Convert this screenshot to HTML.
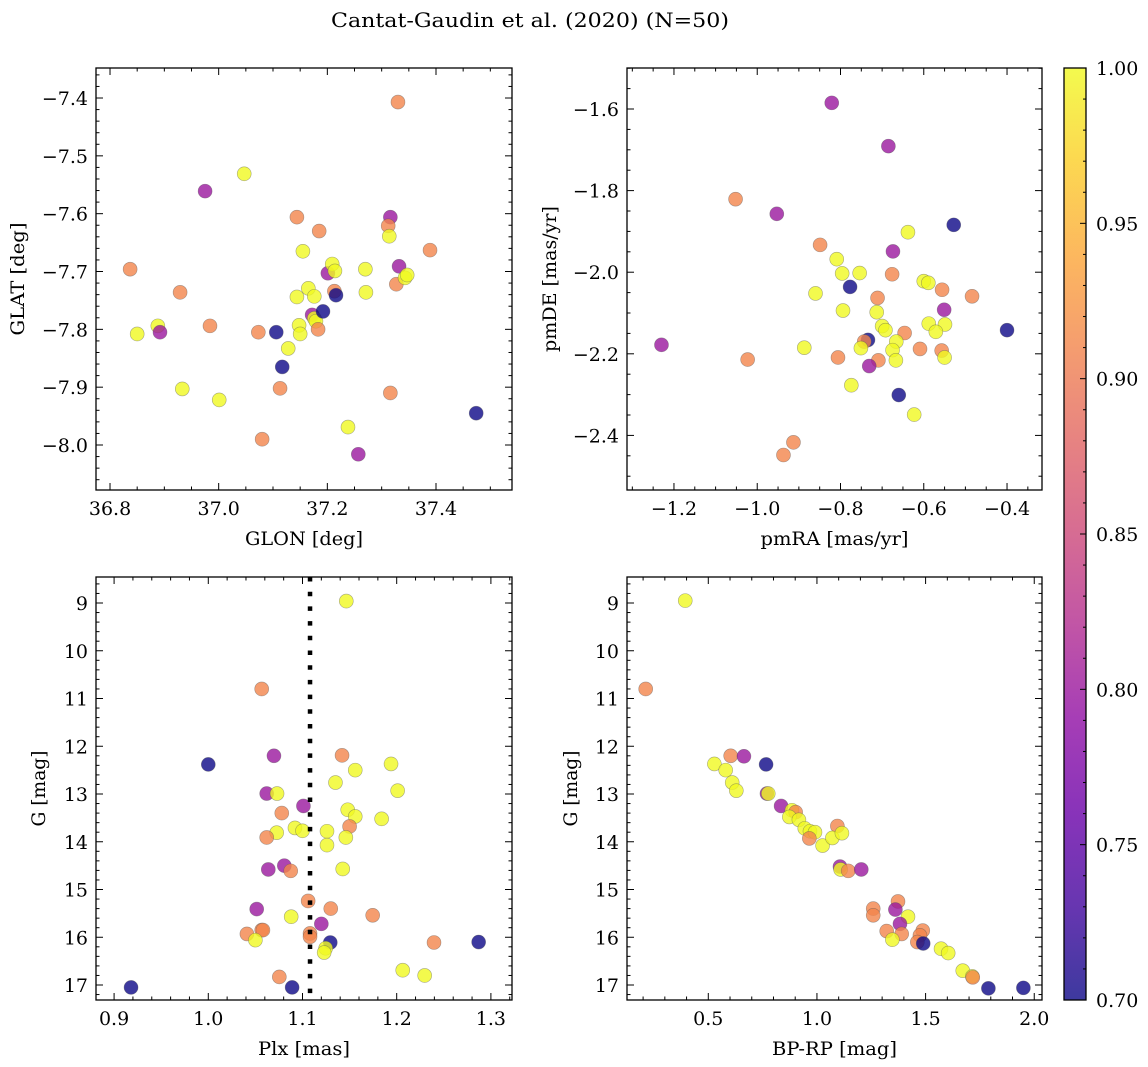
<!DOCTYPE html>
<html><head><meta charset="utf-8"><title>Cantat-Gaudin et al. (2020)</title>
<style>
html,body{margin:0;padding:0;background:#fff;}
svg{display:block;font-family:"DejaVu Serif","Liberation Serif",serif;}
</style></head>
<body>
<svg id="fig" width="1148" height="1067" viewBox="0 0 1148 1067" xmlns="http://www.w3.org/2000/svg">
<defs>
<linearGradient id="cbgrad" x1="0" y1="1" x2="0" y2="0">
<stop offset="0" stop-color="#0d0887"/><stop offset="0.1" stop-color="#41049d"/><stop offset="0.2" stop-color="#6a00a8"/><stop offset="0.3" stop-color="#8f0da4"/><stop offset="0.4" stop-color="#b12a90"/><stop offset="0.5" stop-color="#cc4778"/><stop offset="0.6" stop-color="#e16462"/><stop offset="0.7" stop-color="#f2844b"/><stop offset="0.8" stop-color="#fca636"/><stop offset="0.9" stop-color="#fcce25"/><stop offset="1" stop-color="#f0f921"/>
</linearGradient>
</defs>
<text x="530" y="27" text-anchor="middle" font-size="20" textLength="398" lengthAdjust="spacingAndGlyphs">Cantat-Gaudin et al. (2020) (N=50)</text>
<g id="layer"></g>
</svg>
<script>
// ---- Panel 1: GLON vs GLAT ----
const glon1 = [37.33,36.975,37.047,36.837,36.850,36.888,36.892,36.929,36.984,36.933,37.001,37.073,37.106,37.117,37.113,37.080,37.128,37.144,37.155,37.144,37.148,37.150,37.165,37.176,37.172,37.176,37.179,37.183,37.185,37.192,37.201,37.209,37.214,37.213,37.216,37.238,37.257,37.270,37.271,37.316,37.312,37.314,37.327,37.332,37.343,37.347,37.316,37.389,37.474];
const glat1 = [-7.407,-7.561,-7.531,-7.696,-7.808,-7.794,-7.805,-7.736,-7.794,-7.903,-7.922,-7.805,-7.805,-7.865,-7.902,-7.990,-7.833,-7.606,-7.665,-7.744,-7.793,-7.808,-7.729,-7.743,-7.775,-7.781,-7.786,-7.800,-7.630,-7.769,-7.703,-7.687,-7.699,-7.734,-7.741,-7.969,-8.016,-7.696,-7.736,-7.606,-7.621,-7.639,-7.722,-7.691,-7.711,-7.706,-7.910,-7.663,-7.945];
const prob1 = [0.91,0.80,1.0,0.91,1.0,1.0,0.80,0.91,0.91,1.0,1.0,0.91,0.70,0.70,0.91,0.91,1.0,0.91,1.0,1.0,1.0,1.0,1.0,1.0,0.80,1.0,1.0,0.91,0.91,0.70,0.80,1.0,1.0,0.91,0.70,1.0,0.80,1.0,1.0,0.80,0.91,1.0,0.91,0.80,1.0,1.0,0.91,0.91,0.70];

// ---- Panel 2: pmRA vs pmDE ----
const pmra2 = [-0.821,-0.685,-1.052,-0.953,-0.528,-0.638,-0.849,-0.674,-0.809,-0.796,-0.754,-0.676,-0.600,-0.589,-0.556,-0.484,-0.860,-0.777,-0.711,-0.794,-0.713,-0.551,-0.700,-0.692,-0.646,-0.588,-0.549,-0.571,-0.400,-1.230,-0.887,-0.734,-0.743,-0.751,-0.666,-0.675,-0.667,-0.609,-0.557,-0.550,-1.023,-0.806,-0.709,-0.731,-0.774,-0.660,-0.623,-0.913,-0.937];
const pmde2 = [-1.585,-1.691,-1.821,-1.857,-1.884,-1.902,-1.933,-1.949,-1.968,-2.003,-2.002,-2.005,-2.022,-2.026,-2.043,-2.059,-2.052,-2.036,-2.063,-2.094,-2.098,-2.092,-2.132,-2.142,-2.149,-2.126,-2.128,-2.146,-2.142,-2.178,-2.185,-2.166,-2.170,-2.186,-2.170,-2.191,-2.216,-2.188,-2.192,-2.209,-2.214,-2.209,-2.216,-2.230,-2.277,-2.301,-2.349,-2.417,-2.448];
const prob2 = [0.80,0.80,0.91,0.80,0.70,1.0,0.91,0.80,1.0,1.0,1.0,0.91,1.0,1.0,0.91,0.91,1.0,0.70,0.91,1.0,1.0,0.80,1.0,1.0,0.91,1.0,1.0,1.0,0.70,0.80,1.0,0.70,0.91,1.0,1.0,1.0,1.0,0.91,0.91,1.0,0.91,0.91,0.91,0.80,1.0,0.70,1.0,0.91,0.91];

// ---- Panel 3: Plx vs G ----
const plx3 = [1.1465,1.0567,1.000,1.0697,1.142,1.194,1.156,1.135,1.201,1.062,1.073,1.101,1.078,1.148,1.156,1.184,1.150,1.092,1.100,1.0726,1.062,1.126,1.146,1.126,1.1427,1.0637,1.0807,1.0875,1.106,1.0514,1.130,1.1745,1.088,1.120,1.041,1.0567,1.058,1.050,1.108,1.108,1.1295,1.1246,1.123,1.2396,1.2064,1.2297,1.0754,1.089,0.918,1.287];
const gmag3 = [8.96,10.80,12.38,12.20,12.19,12.37,12.50,12.76,12.93,12.99,12.99,13.25,13.40,13.33,13.47,13.52,13.68,13.71,13.77,13.81,13.91,13.78,13.91,14.07,14.57,14.58,14.50,14.61,15.24,15.41,15.40,15.54,15.57,15.72,15.93,15.85,15.85,16.06,15.92,15.99,16.11,16.23,16.32,16.11,16.69,16.80,16.83,17.05,17.05,16.10];
const prob3 = [1.0,0.91,0.70,0.80,0.91,1.0,1.0,1.0,1.0,0.80,1.0,0.80,0.91,1.0,1.0,1.0,0.91,1.0,1.0,1.0,0.91,1.0,1.0,1.0,1.0,0.80,0.80,0.91,0.91,0.80,0.91,0.91,1.0,0.80,0.91,0.91,0.91,1.0,0.91,0.91,0.70,1.0,1.0,0.91,1.0,1.0,0.91,0.70,0.70,0.70];
const plxRef = 1.108;

// ---- Panel 4: BP-RP vs G ----
const bprp4 = [0.394,0.212,0.603,0.664,0.766,0.528,0.580,0.610,0.629,0.770,0.776,0.835,0.885,0.902,0.873,0.917,0.944,0.968,0.991,0.965,1.026,1.094,1.071,1.115,1.106,1.109,1.144,1.204,1.259,1.259,1.373,1.361,1.419,1.382,1.321,1.390,1.347,1.487,1.474,1.462,1.489,1.571,1.604,1.671,1.715,1.717,1.789,1.950];
const gmag4 = [8.95,10.80,12.20,12.21,12.38,12.37,12.50,12.76,12.93,12.99,12.99,13.25,13.34,13.38,13.48,13.54,13.72,13.78,13.80,13.93,14.08,13.67,13.92,13.82,14.52,14.58,14.61,14.58,15.40,15.54,15.25,15.42,15.57,15.72,15.87,15.93,16.05,15.86,15.96,16.10,16.13,16.24,16.33,16.70,16.82,16.84,17.07,17.06];
const prob4 = [1.0,0.91,0.91,0.80,0.70,1.0,1.0,1.0,1.0,0.80,1.0,0.80,1.0,0.91,1.0,1.0,1.0,1.0,1.0,0.91,1.0,0.91,1.0,1.0,0.80,1.0,0.91,0.80,0.91,0.91,0.91,0.80,1.0,0.80,0.91,0.91,1.0,0.91,0.91,0.91,0.70,1.0,1.0,1.0,1.0,0.91,0.70,0.70];

// ---- Colorbar ----
const cbTicks = [0.70,0.75,0.80,0.85,0.90,0.95,1.00];
const cbMin = 0.70, cbMax = 1.00;

const NS = "http://www.w3.org/2000/svg";
const layer = document.getElementById('layer');
const TICKFS = 19;
function mk(tag, attrs, parent) {
  const e = document.createElementNS(NS, tag);
  for (const k in attrs) e.setAttribute(k, attrs[k]);
  (parent || layer).appendChild(e);
  return e;
}
const plasma = [[13,8,135],[65,4,157],[106,0,168],[143,13,164],[177,42,144],[204,71,120],[225,100,98],[242,132,75],[252,166,54],[252,206,37],[240,249,33]];
function cmap(v) {
  let t = (v - cbMin) / (cbMax - cbMin); t = Math.max(0, Math.min(1, t));
  const f = t * 10, i = Math.min(9, Math.floor(f)), r = f - i;
  const a = plasma[i], b = plasma[i + 1];
  return 'rgb(' + [0,1,2].map(k => Math.round(a[k] + (b[k] - a[k]) * r)).join(',') + ')';
}
function fmt(v, d) { const s = Math.abs(v).toFixed(d); return (v < -1e-9 ? '\u2212' : '') + s; }

function panel(cfg) {
  const { name, x0, x1, y0, y1, xmin, xmax, ymin, ymax, xmaj, xminor, ymaj, yminor, xdec, ydec, xlab, ylab, ylabX, yInvert, xlabW, ylabW } = cfg;
  const sx = v => x0 + (v - xmin) / (xmax - xmin) * (x1 - x0);
  const sy = yInvert ? (v => y0 + (v - ymin) / (ymax - ymin) * (y1 - y0)) : (v => y1 - (v - ymin) / (ymax - ymin) * (y1 - y0));
  const g = mk('g', {});
  
  
  const clip = mk('clipPath', { id: name + '-clip' }, g);
  mk('rect', { x: x0, y: y0, width: x1 - x0, height: y1 - y0 }, clip);
  const pts = mk('g', { 'clip-path': 'url(#' + name + '-clip)' }, g);
  
  
  const xs = Math.ceil(xmin / xminor - 1e-6), xe = Math.floor(xmax / xminor + 1e-6);
  for (let i = xs; i <= xe; i++) {
    const v = i * xminor, px = sx(v);
    const isMaj = Math.abs(v / xmaj - Math.round(v / xmaj)) < 1e-6;
    const L = isMaj ? 7 : 3.5;
    const t1 = mk('line', { x1: px, x2: px, y1: y1, y2: y1 - L, stroke: '#000', 'stroke-width': 1 }, g);
    
    
    const t2 = mk('line', { x1: px, x2: px, y1: y0, y2: y0 + L, stroke: '#000', 'stroke-width': 1 }, g);
    
    
    if (isMaj) {
      const tl = mk('text', { x: px, y: y1 + 25, 'text-anchor': 'middle', 'font-size': TICKFS }, g);
      tl.textContent = fmt(v, xdec);
      
      
    }
  }
  const ys = Math.ceil(Math.min(ymin, ymax) / yminor - 1e-6), ye = Math.floor(Math.max(ymin, ymax) / yminor + 1e-6);
  for (let i = ys; i <= ye; i++) {
    const v = i * yminor, py = sy(v);
    const isMaj = Math.abs(v / ymaj - Math.round(v / ymaj)) < 1e-6;
    const L = isMaj ? 7 : 3.5;
    const t1 = mk('line', { x1: x0, x2: x0 + L, y1: py, y2: py, stroke: '#000', 'stroke-width': 1 }, g);
    
    
    const t2 = mk('line', { x1: x1, x2: x1 - L, y1: py, y2: py, stroke: '#000', 'stroke-width': 1 }, g);
    
    
    if (isMaj) {
      const tl = mk('text', { x: x0 - 8, y: py + 7, 'text-anchor': 'end', 'font-size': TICKFS }, g);
      tl.textContent = fmt(v, ydec);
      
      
    }
  }
  const fr = mk('rect', { x: x0, y: y0, width: x1 - x0, height: y1 - y0, fill: 'none', stroke: '#000', 'stroke-width': 1.3 }, g);
  
  
  const xl = mk('text', { x: (x0 + x1) / 2, y: y1 + 55, 'text-anchor': 'middle', 'font-size': 19, textLength: xlabW, lengthAdjust: 'spacingAndGlyphs' }, g);
  xl.textContent = xlab;
  
  
  const yl = mk('text', { x: ylabX, y: (y0 + y1) / 2, 'text-anchor': 'middle', 'font-size': 19, textLength: ylabW, lengthAdjust: 'spacingAndGlyphs', transform: 'rotate(-90 ' + ylabX + ' ' + ((y0 + y1) / 2) + ')' }, g);
  yl.textContent = ylab;
  
  
  return { sx, sy, pts };
}
function scatter(P, xs, ys, cs) {
  for (let i = 0; i < xs.length; i++) {
    const c = mk('circle', { cx: P.sx(xs[i]), cy: P.sy(ys[i]), r: 7, fill: cmap(cs[i]), 'fill-opacity': 0.8, stroke: '#555', 'stroke-opacity': 0.5, 'stroke-width': 0.6 }, P.pts);
    
    
  }
}

const P1 = panel({ name: 'glon-glat', x0: 96, x1: 512, y0: 68, y1: 490, xmin: 36.7742, xmax: 37.5399, ymin: -8.0778, ymax: -7.3481, xmaj: 0.2, xminor: 0.05, ymaj: 0.1, yminor: 0.02, xdec: 1, ydec: 1, xlab: 'GLON [deg]', ylab: 'GLAT [deg]', ylabX: 24, xlabW: 118, ylabW: 113 });
scatter(P1, glon1, glat1, prob1);
const P2 = panel({ name: 'pm', x0: 627, x1: 1042, y0: 68, y1: 490, xmin: -1.3128, xmax: -0.3160, ymin: -2.5338, ymax: -1.4995, xmaj: 0.2, xminor: 0.05, ymaj: 0.2, yminor: 0.05, xdec: 1, ydec: 1, xlab: 'pmRA [mas/yr]', ylab: 'pmDE [mas/yr]', ylabX: 556, xlabW: 148, ylabW: 146 });
scatter(P2, pmra2, pmde2, prob2);
const P3 = panel({ name: 'plx-g', x0: 96, x1: 512, y0: 577, y1: 1000, xmin: 0.8808, xmax: 1.3224, ymin: 8.4555, ymax: 17.314, xmaj: 0.1, xminor: 0.02, ymaj: 1, yminor: 0.2, xdec: 1, ydec: 0, xlab: 'Plx [mas]', ylab: 'G [mag]', ylabX: 45, xlabW: 92, ylabW: 76, yInvert: true });
scatter(P3, plx3, gmag3, prob3);
const ref = mk('line', { x1: P3.sx(plxRef), x2: P3.sx(plxRef), y1: 577, y2: 1000, stroke: '#000', 'stroke-width': 4.5, 'stroke-dasharray': '4.5 10.2' }, P3.pts);


const P4 = panel({ name: 'cmd', x0: 627, x1: 1042, y0: 577, y1: 1000, xmin: 0.1259, xmax: 2.0357, ymin: 8.4555, ymax: 17.314, xmaj: 0.5, xminor: 0.1, ymaj: 1, yminor: 0.2, xdec: 1, ydec: 0, xlab: 'BP-RP [mag]', ylab: 'G [mag]', ylabX: 577, xlabW: 125, ylabW: 76, yInvert: true });
scatter(P4, bprp4, gmag4, prob4);

// colorbar
const cb = mk('g', {});


const cbx0 = 1064, cbx1 = 1086, cby0 = 68, cby1 = 1000;
const cby = v => cby1 - (v - cbMin) / (cbMax - cbMin) * (cby1 - cby0);
mk('rect', { x: cbx0, y: cby0, width: cbx1 - cbx0, height: cby1 - cby0, fill: 'url(#cbgrad)', 'fill-opacity': 0.8 }, cb);
for (let i = 70; i <= 100; i++) {
  const v = i / 100, py = cby(v);
  const L = (i % 5 === 0) ? 6 : 3;
  const t = mk('line', { x1: cbx1, x2: cbx1 - L, y1: py, y2: py, stroke: '#000', 'stroke-width': 1 }, cb);
  
  
}
cbTicks.forEach(v => {
  const t = mk('text', { x: cbx1 + 10, y: cby(v) + 7, 'font-size': TICKFS }, cb);
  t.textContent = v.toFixed(2);
  
  
});
const cbf = mk('rect', { x: cbx0, y: cby0, width: cbx1 - cbx0, height: cby1 - cby0, fill: 'none', stroke: '#000', 'stroke-width': 1.3 }, cb);


</script>
</body></html>
